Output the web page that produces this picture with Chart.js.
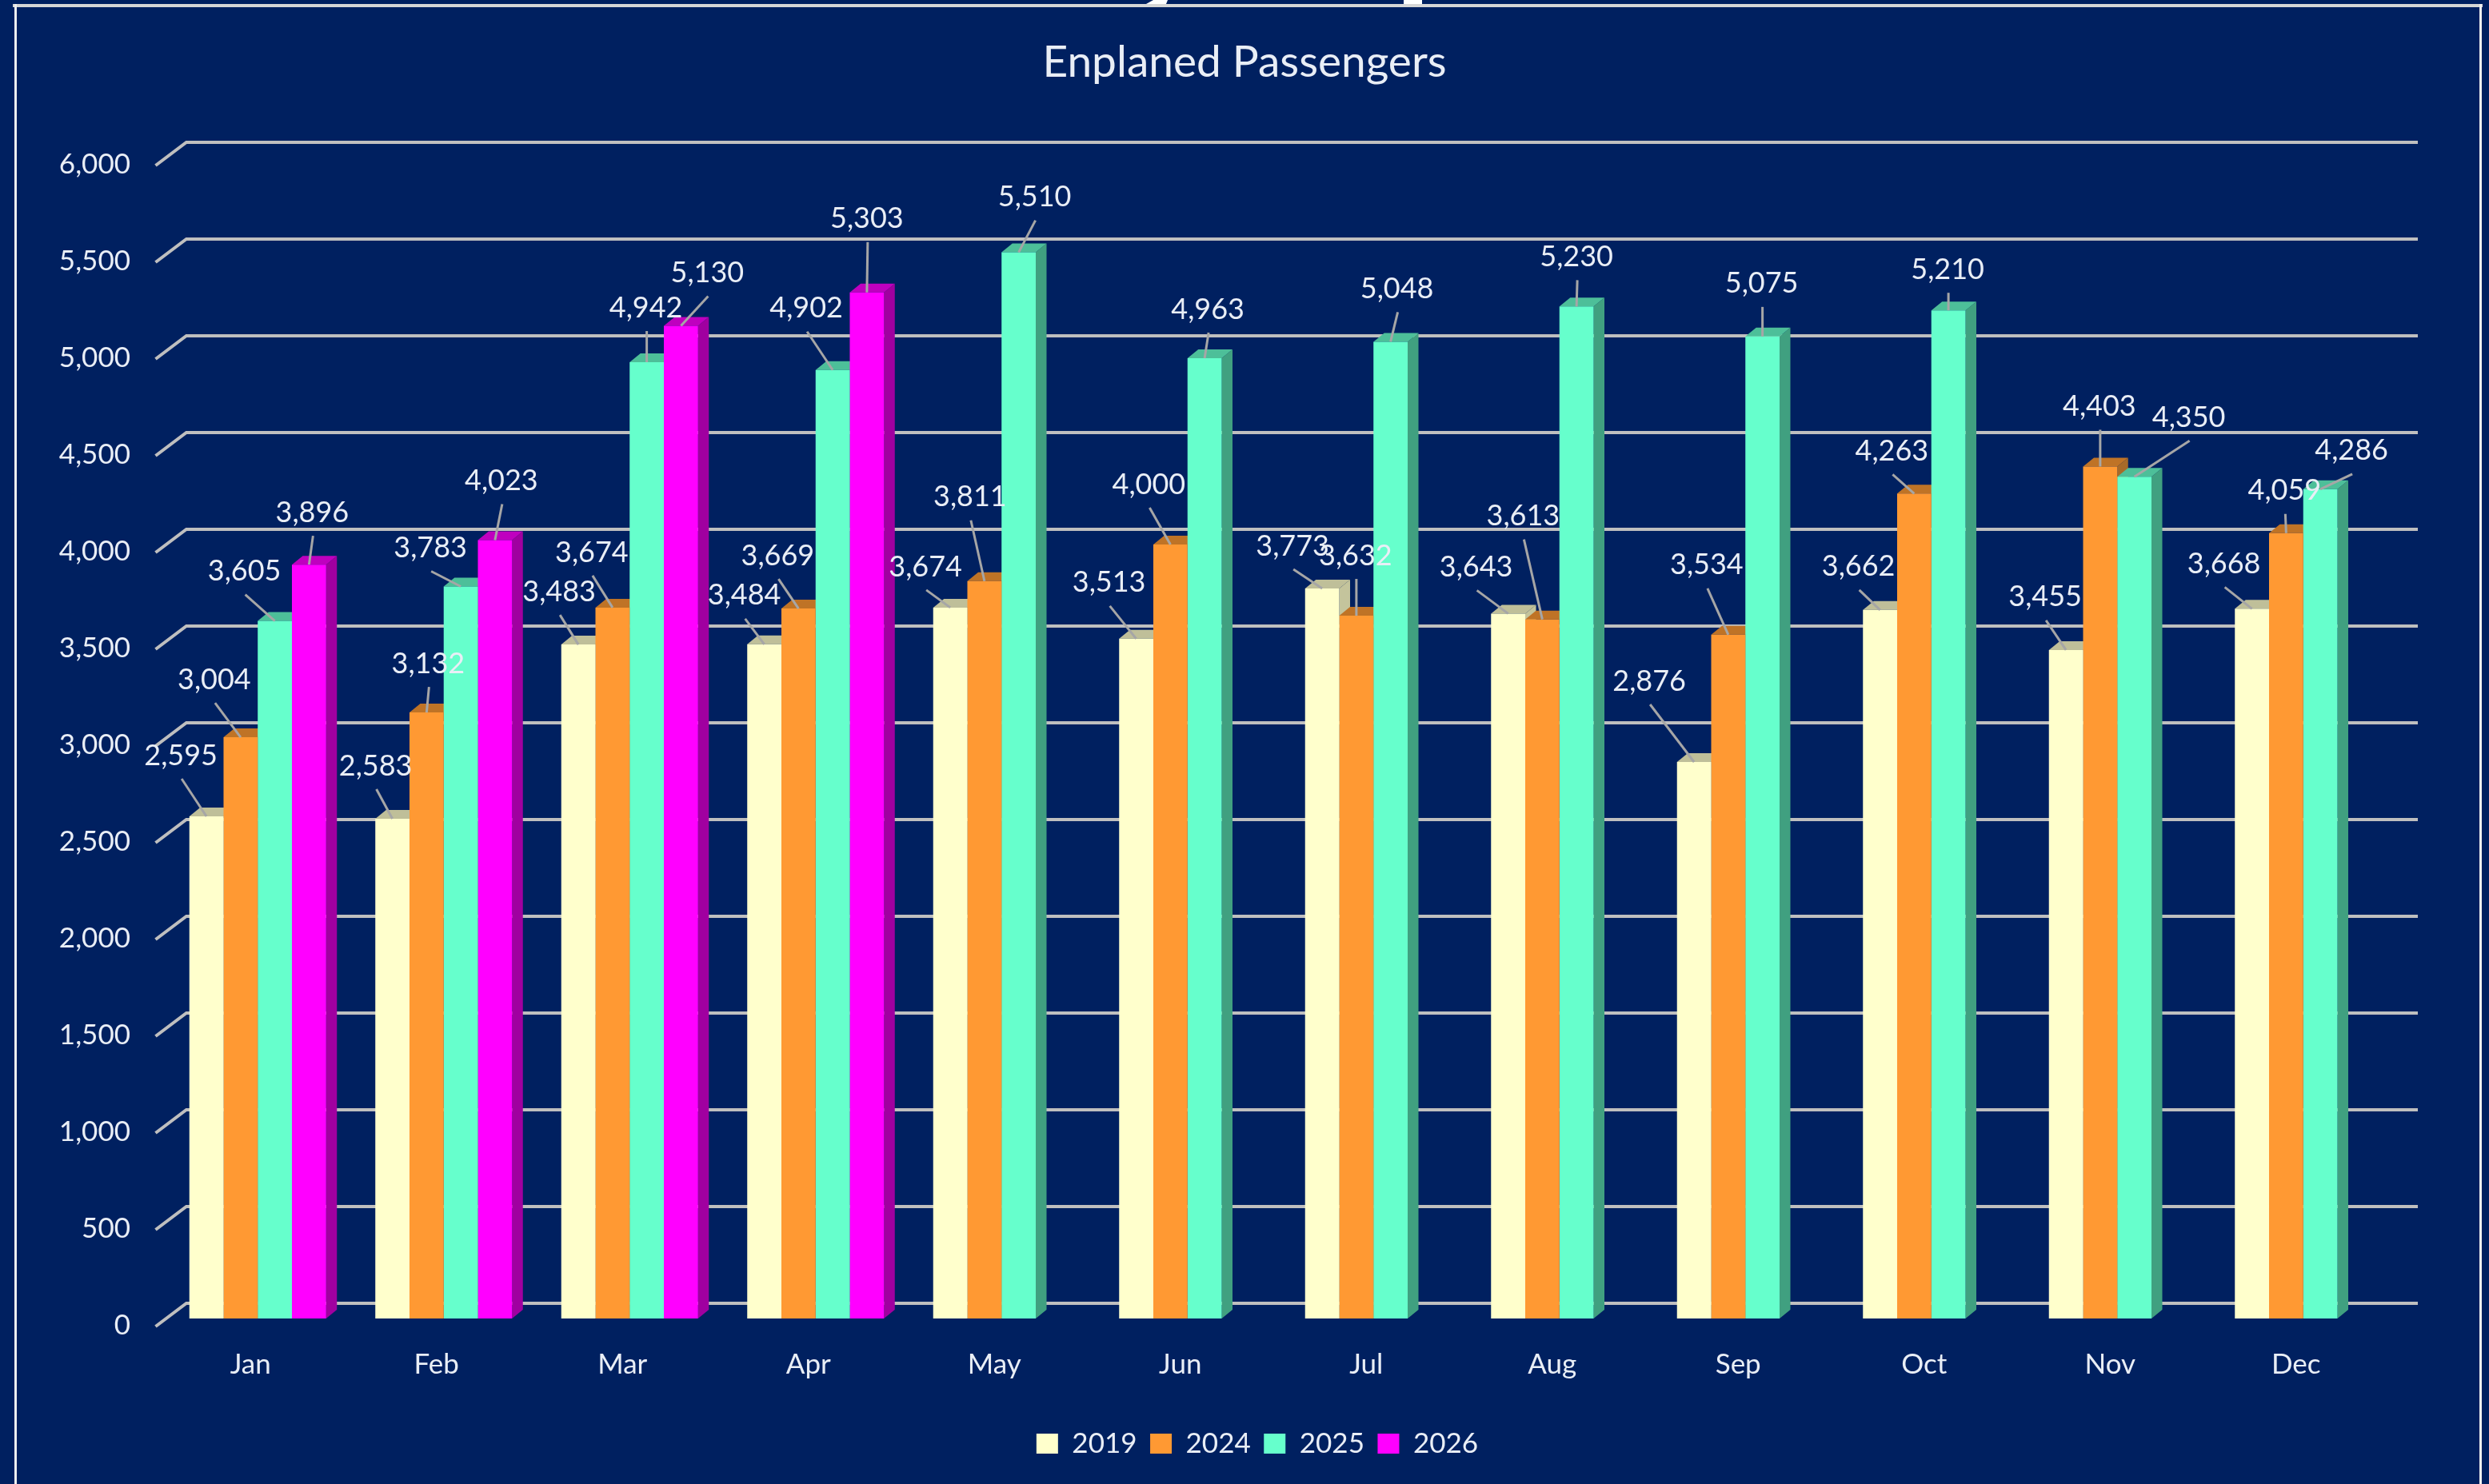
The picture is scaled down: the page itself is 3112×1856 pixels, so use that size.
<!DOCTYPE html>
<html><head><meta charset="utf-8">
<style>html,body{margin:0;padding:0;background:#002060}canvas{display:block}</style>
<script src="https://cdn.jsdelivr.net/npm/chart.js@4"></script>
</head><body><canvas id="c" width="3112" height="1856"></canvas>
<script>
const categories = ['Jan','Feb','Mar','Apr','May','Jun','Jul','Aug','Sep','Oct','Nov','Dec'];
const values2019 = [2595,2583,3483,3484,3674,3513,3773,3643,2876,3662,3455,3668];
const values2024 = [3004,3132,3674,3669,3811,4000,3632,3613,3534,4263,4403,4059];
const values2025 = [3605,3783,4942,4902,5510,4963,5048,5230,5075,5210,4350,4286];
const values2026 = [3896,4023,5130,5303,null,null,null,null,null,null,null,null];
const seriesNames = ['2019','2024','2025','2026'];
const titleText = 'Enplaned Passengers';

// label displacement from each bar's top centre
const labelShift2019 = [[-32,-79],[-21,-69],[-24,-69],[-25,-64],[-31,-54],[-34,-73],[-37,-56],[-40,-61],[-56,-104],[-27,-57],[-26,-69],[-35,-59]];
const labelShift2024 = [[-33,-75],[2,-64],[-26,-72],[-26,-69],[-18,-108],[-27,-78],[-1,-78],[-24,-132],[-27,-90],[-28,-56],[-1,-78],[-2,-56]];
const labelShift2025 = [[-38,-65],[-38,-51],[-1,-71],[-33,-80],[20,-72],[4,-64],[8,-69],[0,-65],[-1,-69],[-1,-54],[68,-77],[39,-51]];
const labelShift2026 = [[4,-68],[8,-77],[33,-69],[0,-95]];
const labelShifts = [labelShift2019,labelShift2024,labelShift2025,labelShift2026];

const FRONT = ['#FFFFCC','#FF9933','#66FFCC','#FF00FF'];
const TOP   = ['#BFBF99','#BF7326','#4DBF99','#BF00BF'];
const SIDE  = ['#C4C49C','#A86A28','#40A080','#A000A0'];
const BG = '#002060', GRID = '#BFBFBF', FONT = 'Lato', TXT = '#E9EEF6';
const DX = 13.5, DY = 11;

const frame = {
  id:'frame',
  afterLayout(chart){ chart.legend.left += 16; chart.legend.right += 16; },
  beforeDraw(chart){
    const c = chart.ctx;
    c.save();
    c.fillStyle = BG; c.fillRect(0,0,chart.width,chart.height);
    c.fillStyle = '#FFFFFF';
    c.beginPath(); c.moveTo(1433,5); c.lineTo(1442,0); c.lineTo(1460,0); c.lineTo(1458,5); c.fill();
    c.fillRect(1755,0,23,5);
    c.fillStyle = '#D6D6D6'; c.fillRect(16,5,3088,4);
    c.fillStyle = '#F0F0F0'; c.fillRect(18,5,3,chart.height); c.fillRect(3100,5,3,chart.height);
    c.restore();
  }
};
const depth = {
  id:'depth',
  beforeDatasetsDraw(chart){
    const c = chart.ctx, y = chart.scales.y, a = chart.chartArea;
    c.save();
    c.strokeStyle = GRID; c.lineWidth = 4; c.lineCap = 'butt';
    y.ticks.forEach(t=>{
      const p = y.getPixelForValue(t.value);
      c.beginPath();
      c.moveTo(a.left-11.5,p+10); c.lineTo(a.left+27,p-19); c.lineTo(a.right+27,p-19);
      c.stroke();
    });
    chart.data.datasets.forEach((ds,j)=>{
      const meta = chart.getDatasetMeta(j);
      meta.data.forEach((el,i)=>{
        if (ds.data[i]==null) return;
        const l = el.x-el.width/2, r = el.x+el.width/2;
        c.fillStyle = SIDE[j];
        c.beginPath(); c.moveTo(r,el.y); c.lineTo(r+DX,el.y-DY); c.lineTo(r+DX,el.base-DY); c.lineTo(r,el.base); c.closePath(); c.fill();
        c.fillStyle = TOP[j];
        c.beginPath(); c.moveTo(l,el.y); c.lineTo(l+DX,el.y-DY); c.lineTo(r+DX,el.y-DY); c.lineTo(r,el.y); c.closePath(); c.fill();
      });
    });
    c.restore();
  }
};
const callouts = {
  id:'callouts',
  afterDatasetsDraw(chart){
    const c = chart.ctx;
    c.save();
    const pts = [];
    chart.data.datasets.forEach((ds,j)=>{
      chart.getDatasetMeta(j).data.forEach((el,i)=>{
        if (ds.data[i]==null) return;
        const s = labelShifts[j][i];
        pts.push({x:el.x,y:el.y,lx:el.x+s[0],ly:el.y+s[1]+3,v:ds.data[i]});
      });
    });
    c.strokeStyle = '#A6A6A6'; c.lineWidth = 3;
    pts.forEach(p=>{ c.beginPath(); c.moveTo(p.lx+1,p.ly+29); c.lineTo(p.x,p.y); c.stroke(); });
    c.font = '36px '+FONT; c.fillStyle = TXT; c.textAlign='center'; c.textBaseline='middle';
    pts.forEach(p=>c.fillText(p.v.toLocaleString('en-US'),p.lx,p.ly));
    c.restore();
  }
};

new Chart(document.getElementById('c'),{
  type:'bar',
  data:{
    labels:categories,
    datasets:[values2019,values2024,values2025,values2026].map((d,j)=>({
      label:seriesNames[j], data:d, backgroundColor:FRONT[j], borderWidth:0,
      categoryPercentage:0.7355, barPercentage:1
    }))
  },
  options:{
    responsive:false, animation:false,
    layout:{padding:{left:0,right:0,top:0,bottom:23}},
    plugins:{
      title:{display:true,text:titleText,color:TXT,font:{family:FONT,size:55,weight:'normal'},padding:{top:45,bottom:86}},
      legend:{position:'bottom',labels:{color:TXT,font:{family:FONT,size:35},boxWidth:27,boxHeight:25,padding:16.5}},
      tooltip:{enabled:false}
    },
    scales:{
      x:{
        grid:{display:false,drawTicks:false}, border:{display:false},
        ticks:{color:TXT,font:{family:FONT,size:35},padding:37,labelOffset:-9,maxRotation:0},
        afterFit(s){ s.height = 122.5; }
      },
      y:{
        min:0,max:6000,
        grid:{display:false,drawTicks:false}, border:{display:false},
        ticks:{stepSize:500,color:TXT,font:{family:FONT,size:35},padding:43,labelOffset:9,
               callback:v=>v.toLocaleString('en-US')},
        afterFit(s){ s.width = 206; }
      },
      rightGap:{
        type:'linear',position:'right',display:true,
        grid:{display:false,drawTicks:false}, border:{display:false},
        ticks:{display:false},
        afterFit(s){ s.width = 116; }
      }
    }
  },
  plugins:[frame,depth,callouts]
});
</script></body></html>
